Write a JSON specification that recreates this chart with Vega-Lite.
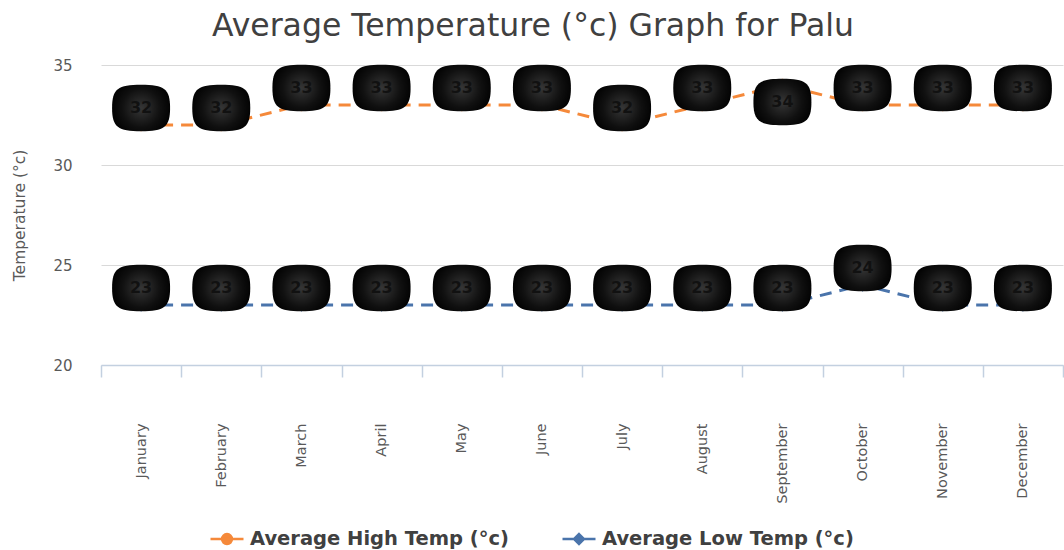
{
  "$schema": "https://vega.github.io/schema/vega-lite/v6.json",
  "width": 962,
  "height": 300,
  "autosize": {"type": "none"},
  "padding": {"left": 101, "top": 65, "right": 1, "bottom": 185},
  "background": "white",
  "config": {
    "font": "DejaVu Sans",
    "view": {"stroke": null},
    "legend": {
      "orient": "none", "legendX": 108, "legendY": 456, "direction": "horizontal", "title": null,
      "padding": 0, "symbolSize": 1089, "symbolStrokeWidth": 2.5, "labelFont": "DejaVu Sans", "labelFontSize": 19.5, "labelFontWeight": "bold",
      "labelColor": "#404040", "labelOffset": 5, "columnPadding": 48, "labelLimit": 400
    }
  },
  "title": {
    "text": "Average Temperature (°c) Graph for Palu",
    "font": "DejaVu Sans",
    "fontSize": 31.5,
    "fontWeight": "normal",
    "color": "#404040",
    "anchor": "middle",
    "frame": "group",
    "dx": -49,
    "dy": 37,
    "baseline": "bottom",
    "offset": 21
  },
  "data": {
    "values": [
      {"month": "January", "series": "Average High Temp (°c)", "temp": 32},
      {"month": "February", "series": "Average High Temp (°c)", "temp": 32},
      {"month": "March", "series": "Average High Temp (°c)", "temp": 33},
      {"month": "April", "series": "Average High Temp (°c)", "temp": 33},
      {"month": "May", "series": "Average High Temp (°c)", "temp": 33},
      {"month": "June", "series": "Average High Temp (°c)", "temp": 33},
      {"month": "July", "series": "Average High Temp (°c)", "temp": 32},
      {"month": "August", "series": "Average High Temp (°c)", "temp": 33},
      {"month": "September", "series": "Average High Temp (°c)", "temp": 34},
      {"month": "October", "series": "Average High Temp (°c)", "temp": 33},
      {"month": "November", "series": "Average High Temp (°c)", "temp": 33},
      {"month": "December", "series": "Average High Temp (°c)", "temp": 33},
      {"month": "January", "series": "Average Low Temp (°c)", "temp": 23},
      {"month": "February", "series": "Average Low Temp (°c)", "temp": 23},
      {"month": "March", "series": "Average Low Temp (°c)", "temp": 23},
      {"month": "April", "series": "Average Low Temp (°c)", "temp": 23},
      {"month": "May", "series": "Average Low Temp (°c)", "temp": 23},
      {"month": "June", "series": "Average Low Temp (°c)", "temp": 23},
      {"month": "July", "series": "Average Low Temp (°c)", "temp": 23},
      {"month": "August", "series": "Average Low Temp (°c)", "temp": 23},
      {"month": "September", "series": "Average Low Temp (°c)", "temp": 23},
      {"month": "October", "series": "Average Low Temp (°c)", "temp": 24},
      {"month": "November", "series": "Average Low Temp (°c)", "temp": 23},
      {"month": "December", "series": "Average Low Temp (°c)", "temp": 23}
    ]
  },
  "encoding": {
    "x": {
      "field": "month",
      "type": "nominal",
      "sort": ["January", "February", "March", "April", "May", "June", "July", "August", "September", "October", "November", "December"],
      "scale": {"type": "band", "paddingInner": 0, "paddingOuter": 0},
      "axis": {
        "title": null,
        "labelAngle": -90,
        "labelFont": "DejaVu Sans",
        "labelFontSize": 14.5,
        "labelColor": "#595959",
        "labelPadding": 46,
        "tickSize": 12,
        "tickBand": "extent",
        "tickColor": "#c3d0e0",
        "tickWidth": 1.5,
        "domainColor": "#c3d0e0",
        "domainWidth": 1.5,
        "grid": false
      }
    },
    "y": {
      "field": "temp",
      "type": "quantitative",
      "scale": {"domain": [20, 35], "nice": false, "zero": false},
      "axis": {
        "title": "Temperature (°c)",
        "values": [20, 25, 30, 35],
        "domain": false,
        "ticks": false,
        "labelPadding": 29,
        "labelFont": "DejaVu Sans",
        "labelFontSize": 15,
        "labelColor": "#595959",
        "gridColor": "#d9d9d9",
        "gridWidth": 1,
        "titleFont": "DejaVu Sans",
        "titleFontSize": 15.5,
        "titleFontWeight": "normal",
        "titleColor": "#595959",
        "titlePadding": 25
      }
    }
  },
  "layer": [
    {
      "transform": [{"filter": "datum.temp > 28"}],
      "mark": {"type": "line", "strokeWidth": 3, "strokeDash": [12, 8], "color": "#F5893A"}
    },
    {
      "transform": [{"filter": "datum.temp < 28"}],
      "mark": {"type": "line", "strokeWidth": 3, "strokeDash": [12, 8], "color": "#4A74AB"}
    },
    {
      "mark": {"type": "point", "filled": true, "size": 1089, "strokeWidth": 2.5, "opacity": 1},
      "encoding": {
        "fill": {
          "field": "series",
          "type": "nominal",
          "scale": {"domain": ["Average High Temp (°c)", "Average Low Temp (°c)"], "range": ["#F5893A", "#4A74AB"]}
        },
        "stroke": {
          "field": "series",
          "type": "nominal",
          "scale": {"domain": ["Average High Temp (°c)", "Average Low Temp (°c)"], "range": ["#F5893A", "#4A74AB"]}
        },
        "shape": {
          "field": "series",
          "type": "nominal",
          "scale": {
            "domain": ["Average High Temp (°c)", "Average Low Temp (°c)"],
            "range": ["M-1,0L1,0M0.3,0A0.3,0.3 0 1 1 -0.3,0A0.3,0.3 0 1 1 0.3,0Z", "M-1,0L1,0M0,-0.3L0.3,0L0,0.3L-0.3,0Z"]
          }
        }
      }
    },
    {
      "transform": [{"filter": "datum.temp !== 34"}],
      "mark": {
        "type": "point",
        "shape": "M 0,-0.8 C 0.8,-0.8 1,-0.66 1,0 C 1,0.66 0.8,0.8 0,0.8 C -0.8,0.8 -1,0.66 -1,0 C -1,-0.66 -0.8,-0.8 0,-0.8 Z",
        "size": 3364,
        "filled": true,
        "opacity": 1,
        "strokeWidth": 0,
        "yOffset": -17,
        "fill": {"gradient": "radial", "x1": 0.5, "y1": 0.5, "x2": 0.5, "y2": 0.5, "r1": 0, "r2": 0.55,
          "stops": [{"offset": 0, "color": "#363636"}, {"offset": 0.6, "color": "#101010"}, {"offset": 1, "color": "#000000"}]}
      }
    },
    {
      "transform": [{"filter": "datum.temp === 34"}],
      "mark": {
        "type": "point",
        "shape": "M 0,-0.8 C 0.8,-0.8 1,-0.66 1,0 C 1,0.66 0.8,0.8 0,0.8 C -0.8,0.8 -1,0.66 -1,0 C -1,-0.66 -0.8,-0.8 0,-0.8 Z",
        "size": 3364,
        "filled": true,
        "opacity": 1,
        "strokeWidth": 0,
        "yOffset": 17,
        "fill": {"gradient": "radial", "x1": 0.5, "y1": 0.5, "x2": 0.5, "y2": 0.5, "r1": 0, "r2": 0.55,
          "stops": [{"offset": 0, "color": "#363636"}, {"offset": 0.6, "color": "#101010"}, {"offset": 1, "color": "#000000"}]}
      }
    },
    {
      "transform": [{"filter": "datum.temp !== 34"}],
      "mark": {"type": "text", "font": "DejaVu Sans", "fontSize": 16, "fontWeight": "bold", "color": "#111111", "yOffset": -17, "baseline": "middle", "align": "center"},
      "encoding": {"text": {"field": "temp", "type": "quantitative"}}
    },
    {
      "transform": [{"filter": "datum.temp === 34"}],
      "mark": {"type": "text", "font": "DejaVu Sans", "fontSize": 16, "fontWeight": "bold", "color": "#111111", "yOffset": 17, "baseline": "middle", "align": "center"},
      "encoding": {"text": {"field": "temp", "type": "quantitative"}}
    }
  ]
}
